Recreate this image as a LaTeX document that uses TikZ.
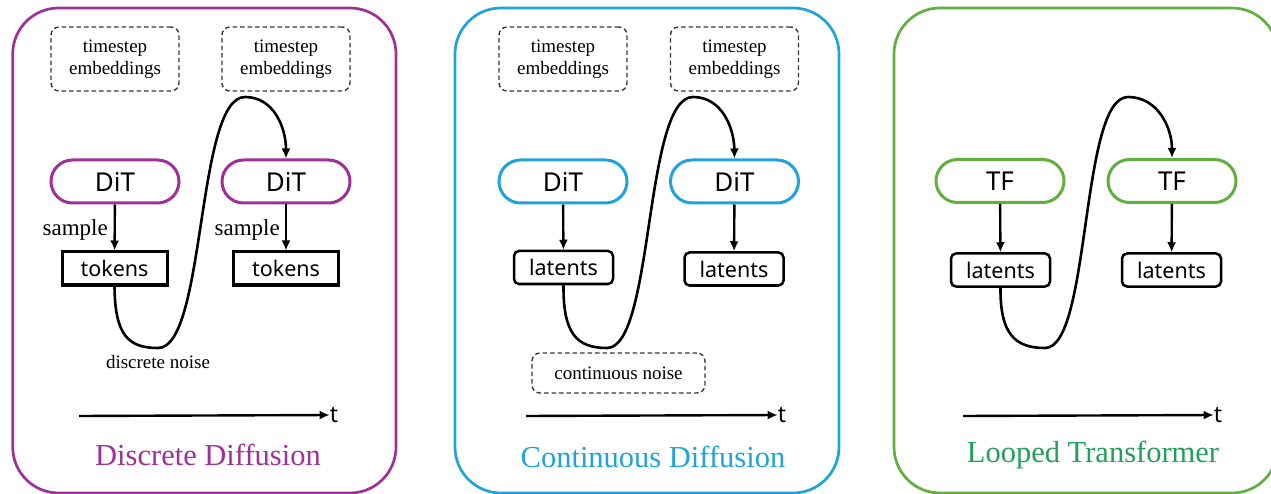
\documentclass[tikz,border=0pt]{standalone}
\usepackage{fontspec}
\setmainfont{Liberation Serif}
\newfontfamily\uisans{Noto Sans}
\usetikzlibrary{arrows.meta,shapes.misc}

\definecolor{ddpurple}{RGB}{158,48,152}
\definecolor{cdblue}{RGB}{32,162,218}
\definecolor{ltgreen}{RGB}{96,176,64}
\definecolor{lttitle}{RGB}{32,160,88}
\definecolor{dashgray}{RGB}{55,55,55}

\tikzset{
  panel/.style={rounded corners=46pt, line width=2.7pt},
  embbox/.style={draw=dashgray, line width=1.4pt, dash pattern=on 4.5pt off 3pt,
    rounded corners=8pt, minimum width=128pt, minimum height=64pt,
    align=center, font=\fontsize{19}{22}\selectfont, inner sep=0pt},
  noisebox/.style={draw=dashgray, line width=1.4pt, dash pattern=on 4.5pt off 3pt,
    rounded corners=8pt, minimum width=173pt, minimum height=40pt,
    font=\fontsize{19}{22}\selectfont, inner sep=0pt},
  modelbox/.style={rounded rectangle, line width=3pt, minimum width=128pt,
    minimum height=43pt, inner sep=0pt, font=\uisans\fontsize{26}{30}\selectfont},
  tokbox/.style={draw, line width=3pt, minimum width=105pt, minimum height=33pt,
    inner sep=0pt, font=\uisans\fontsize{21.5}{24}\selectfont},
  latbox/.style={draw, line width=2.5pt, rounded corners=5pt, minimum width=99pt,
    minimum height=33pt, inner sep=0pt, font=\uisans\fontsize{21.5}{24}\selectfont},
  flow/.style={line width=2.4pt, -{Latex[length=10pt,width=9pt]}},
  loop/.style={line width=2.6pt, -{Latex[length=10pt,width=9pt]}},
  lbl/.style={font=\fontsize{23}{26}\selectfont, inner sep=0pt},
  smalllbl/.style={font=\fontsize{19}{22}\selectfont, inner sep=0pt},
  tlbl/.style={font=\uisans\fontsize{23}{24}\selectfont, inner sep=0pt},
  title/.style={font=\fontsize{30.5}{34}\selectfont, inner sep=0pt}
}

\begin{document}
\begin{tikzpicture}[x=1pt,y=-1pt]
\useasboundingbox (0,0) rectangle (1271,494);

% ---------- Discrete diffusion ----------
\draw[panel, ddpurple] (12.7,8) rectangle (396,493);
\node[embbox] (ts1) at (115,59) {timestep\\embeddings};
\node[embbox] (ts2) at (286,59) {timestep\\embeddings};
\node[modelbox, draw=ddpurple] (dit1) at (115,181.5) {DiT};
\node[modelbox, draw=ddpurple] (dit2) at (286,181.5) {DiT};
\node[tokbox] (tok1) at (114.5,268.5) {tokens};
\node[tokbox] (tok2) at (286,268.5) {tokens};
\draw[flow] (dit1) -- (tok1);
\draw[flow] (dit2) -- (tok2);
\node[lbl, anchor=base east] (smp1) at (108,236) {sample};
\node[lbl, anchor=base east] (smp2) at (280,236) {sample};
\draw[loop] (tok1.south) .. controls (115,335) and (128,348) .. (158,348)
  .. controls (206,348) and (196,97) .. (245,97)
  .. controls (274,97) and (286,128) .. (dit2.north);
\node[smalllbl] (dnoise) at (158,362) {discrete noise};
\coordinate (ax1) at (79,416);
\node[tlbl] (t1) at (334,415) {t};
\draw[flow] (ax1) -- (t1.west);
\node[title, text=ddpurple] (title1) at (208,455) {Discrete Diffusion};

% ---------- Continuous diffusion ----------
\draw[panel, cdblue] (455,8) rectangle (839,493);
\node[embbox] (ts3) at (563,59) {timestep\\embeddings};
\node[embbox] (ts4) at (734.5,59) {timestep\\embeddings};
\node[modelbox, draw=cdblue] (dit3) at (563,181.5) {DiT};
\node[modelbox, draw=cdblue] (dit4) at (734.5,181.5) {DiT};
\node[latbox] (lat1) at (563.5,267.5) {latents};
\node[latbox] (lat2) at (734,269) {latents};
\draw[flow] (dit3) -- (lat1);
\draw[flow] (dit4) -- (lat2);
\draw[loop] (lat1.south) .. controls (563,334) and (577,348) .. (607,348)
  .. controls (654,348) and (644,97) .. (693,97)
  .. controls (722,97) and (734,128) .. (dit4.north);
\node[noisebox] (cnoise) at (618.5,373) {continuous noise};
\coordinate (ax2) at (526,416);
\node[tlbl] (t2) at (782,415) {t};
\draw[flow] (ax2) -- (t2.west);
\node[title, text=cdblue] (title2) at (653,457) {Continuous Diffusion};

% ---------- Looped transformer ----------
\draw[panel, ltgreen] (894,8) rectangle (1278,493);
\node[modelbox, draw=ltgreen] (tf1) at (1000,181) {TF};
\node[modelbox, draw=ltgreen] (tf2) at (1172,181) {TF};
\node[latbox] (lat3) at (1000.5,270) {latents};
\node[latbox] (lat4) at (1171.5,270) {latents};
\draw[flow] (tf1) -- (lat3);
\draw[flow] (tf2) -- (lat4);
\draw[loop] (lat3.south) .. controls (1000,334) and (1015,348) .. (1045,348)
  .. controls (1091,348) and (1080,97) .. (1128,97)
  .. controls (1158,97) and (1172,128) .. (tf2.north);
\coordinate (ax3) at (963,416);
\node[tlbl] (t3) at (1218,415) {t};
\draw[flow] (ax3) -- (t3.west);
\node[title, text=lttitle] (title3) at (1093,455) {Looped Transformer};
\end{tikzpicture}
\end{document}
